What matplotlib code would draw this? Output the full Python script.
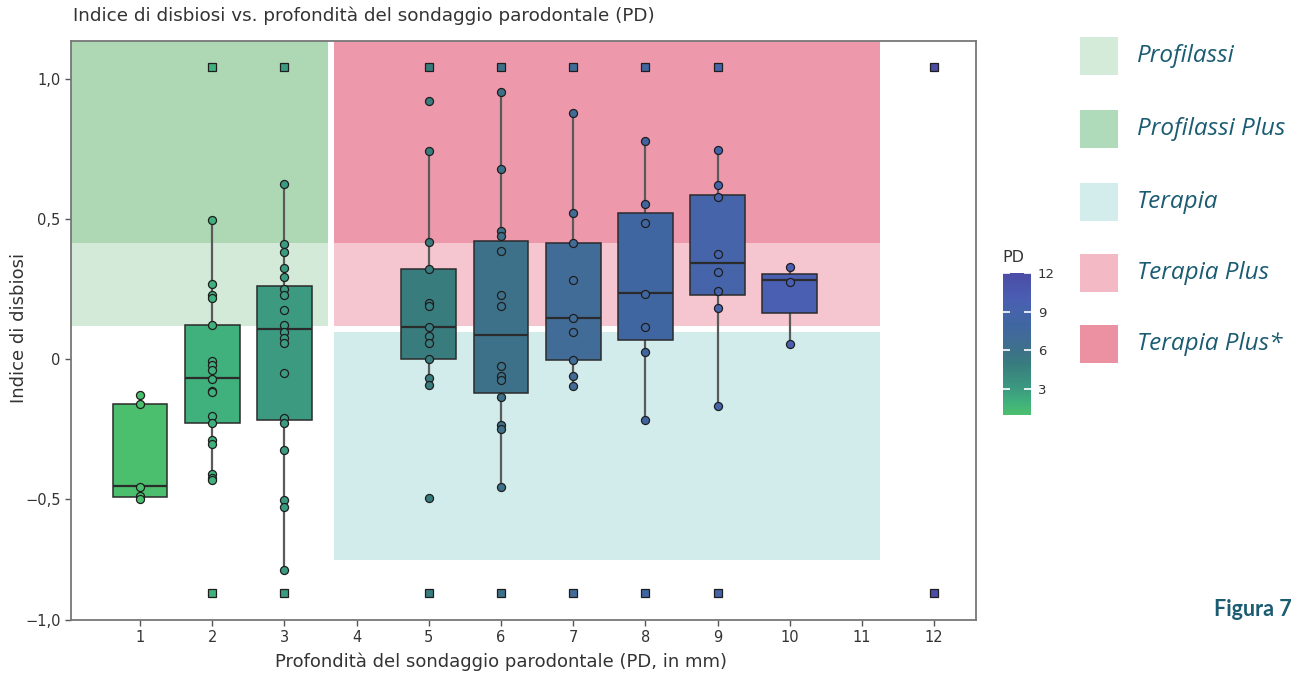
import matplotlib
matplotlib.use("Agg")
import matplotlib.pyplot as plt
from matplotlib.colors import LinearSegmentedColormap, Normalize
from matplotlib.patches import Rectangle
import matplotlib.colorbar as mcolorbar

# ---------------- data ----------------
pd_levels = [1, 2, 3, 5, 6, 7, 8, 9, 10]

pd1_values = [-0.13, -0.16, -0.46, -0.49, -0.50]
pd2_values = [0.495, 0.267, 0.227, 0.216, 0.119, -0.008, -0.022, -0.039, -0.073,
              -0.116, -0.120, -0.204, -0.231, -0.292, -0.305, -0.412, -0.426, -0.435]
pd3_values = [0.623, 0.411, 0.381, 0.325, 0.294, 0.250, 0.228, 0.176, 0.119, 0.095,
              0.075, 0.058, -0.052, -0.211, -0.231, -0.325, -0.505, -0.529, -0.757]
pd5_values = [0.921, 0.742, 0.416, 0.321, 0.200, 0.189, 0.113, 0.082, 0.055,
              -0.002, -0.070, -0.094, -0.497]
pd6_values = [0.954, 0.679, 0.458, 0.438, 0.387, 0.228, 0.189, -0.027, -0.063,
              -0.077, -0.136, -0.236, -0.250, -0.458]
pd7_values = [0.878, 0.521, 0.415, 0.280, 0.145, 0.095, -0.006, -0.063, -0.097]
pd8_values = [0.777, 0.552, 0.485, 0.232, 0.115, 0.024, -0.220]
pd9_values = [0.745, 0.621, 0.579, 0.373, 0.311, 0.242, 0.182, -0.168]
pd10_values = [0.329, 0.276, 0.051]
points_by_pd = [pd1_values, pd2_values, pd3_values, pd5_values, pd6_values,
                pd7_values, pd8_values, pd9_values, pd10_values]

box_q1 = [-0.493, -0.231, -0.218, 0.000, -0.124, -0.006, 0.067, 0.227, 0.162]
box_median = [-0.455, -0.070, 0.106, 0.113, 0.084, 0.146, 0.235, 0.344, 0.280]
box_q3 = [-0.160, 0.119, 0.259, 0.321, 0.420, 0.415, 0.521, 0.585, 0.302]
whisker_low = [-0.500, -0.435, -0.757, -0.094, -0.458, -0.097, -0.220, -0.168, 0.051]
whisker_high = [-0.126, 0.495, 0.623, 0.742, 0.954, 0.878, 0.777, 0.745, 0.329]

# off-scale values shown as squares at the panel edges
capped_pd = [2, 3, 5, 6, 7, 8, 9, 12]
capped_high = 1.043
capped_low = -0.839

x_ticks = [1, 2, 3, 4, 5, 6, 7, 8, 9, 10, 11, 12]
y_ticks = [1.0, 0.5, 0.0, -0.5]
y_tick_labels = ["1,0", "0,5", "0", "\u22120,5"]

legend_labels = ["Profilassi", "Profilassi Plus", "Terapia", "Terapia Plus", "Terapia Plus*"]
legend_colors = ["#d4ebd9", "#b0dbbb", "#d3ecec", "#f3b9c5", "#ec91a2"]

# ---------------- style ----------------
W, H = 1302, 676
plt.rcParams['font.family'] = ['DejaVu Sans']
fig = plt.figure(figsize=(W / 100, H / 100), dpi=100)

YLIM = (-0.934, 1.136)
XLIM = (0.044, 12.58)
ax = fig.add_axes([71 / W, 1 - 620 / H, (976 - 71) / W, (620 - 41) / H])
ax.set_xlim(*XLIM)
ax.set_ylim(*YLIM)

cmap = LinearSegmentedColormap.from_list(
    "pd", [(0.0, "#4cbf6e"), (1 / 11, "#40b07c"), (2 / 11, "#3c9a80"),
           (4 / 11, "#387c7e"), (5 / 11, "#3d7189"), (6 / 11, "#416c98"),
           (7 / 11, "#4066a1"), (8 / 11, "#4564aa"), (9 / 11, "#4a5eb2"),
           (1.0, "#4b4ca6")])
norm = Normalize(1, 12)

# background zones
zones = [
    (XLIM[0], 3.61, 0.414, YLIM[1], "#aed8b4"),
    (XLIM[0], 3.61, 0.118, 0.414, "#d3ead8"),
    (3.69, 11.255, 0.414, YLIM[1], "#ee99ab"),
    (3.69, 11.255, 0.118, 0.414, "#f6c6d0"),
    (3.69, 11.255, -0.721, 0.097, "#d2ebeb"),
]
for x0, x1, y0, y1, c in zones:
    ax.add_patch(Rectangle((x0, y0), x1 - x0, y1 - y0, facecolor=c,
                           edgecolor="none", zorder=0))

# boxes
stats = []
for i, p in enumerate(pd_levels):
    stats.append(dict(med=box_median[i], q1=box_q1[i], q3=box_q3[i],
                      whislo=whisker_low[i], whishi=whisker_high[i], fliers=[]))
bp = ax.bxp(stats, positions=pd_levels, widths=0.76, patch_artist=True,
            showfliers=False, showcaps=False,
            boxprops=dict(edgecolor="#2b2b2b", linewidth=1.1),
            medianprops=dict(color="#2b2b2b", linewidth=1.6),
            whiskerprops=dict(color="#5a5a5a", linewidth=1.6),
            manage_ticks=False, zorder=2)
for patch, p in zip(bp["boxes"], pd_levels):
    patch.set_facecolor(cmap(norm(p)))
for w in bp["whiskers"]:
    w.set_zorder(1.5)

# points
for p, vals in zip(pd_levels, points_by_pd):
    ax.plot([p] * len(vals), vals, linestyle="none", marker="o", markersize=5.8,
            markerfacecolor=cmap(norm(p)), markeredgecolor="#1e1e1e",
            markeredgewidth=0.9, zorder=3)

# capped squares
for p in capped_pd:
    ax.plot([p, p], [capped_high, capped_low], linestyle="none", marker="s",
            markersize=5.5, markerfacecolor=cmap(norm(p)),
            markeredgecolor="#1e1e1e", markeredgewidth=0.9, zorder=3)

# axes styling
for s in ax.spines.values():
    s.set_color("#777777")
    s.set_linewidth(1.3)
ax.set_xticks(x_ticks)
ax.set_xticklabels([str(t) for t in x_ticks])
ax.set_yticks(y_ticks + [YLIM[0]])
ax.set_yticklabels(y_tick_labels + ["\u22121,0"])
ax.tick_params(axis="both", colors="#555555", length=4, width=1.0,
               labelsize=10.5, labelcolor="#333333")
ax.set_xlabel("Profondità del sondaggio parodontale (PD, in mm)", fontsize=13,
              color="#333333", va="center")
ax.xaxis.set_label_coords((501 - 71) / 905, -(662 - 620) / 579)
ax.set_ylabel("Indice di disbiosi", fontsize=13, color="#333333", va="center")
ax.yaxis.set_label_coords(-(71 - 19) / 905, (620 - 328) / 579)
fig.text(73 / W, 1 - 16 / H, "Indice di disbiosi vs. profondità del sondaggio parodontale (PD)",
         fontsize=13.2, color="#333333", ha="left", va="center")

# colorbar
cax = fig.add_axes([1003 / W, 1 - 415 / H, 28 / W, (415 - 273) / H])
cb = mcolorbar.ColorbarBase(cax, cmap=cmap, norm=norm, ticks=[3, 6, 9, 12])
cb.outline.set_visible(False)
cax.tick_params(axis="y", direction="in", color="white", length=5, width=1.2,
                left=True, right=True, labelleft=False, labelright=True,
                labelsize=9.5, labelcolor="#333333", pad=5)
fig.text(1002 / W, 1 - 257 / H, "PD", fontsize=11.5, color="#333333",
         ha="left", va="center")

# zone legend
legend_tops = [37, 110, 183, 254, 325]
for lab, col, top in zip(legend_labels, legend_colors, legend_tops):
    fig.add_artist(Rectangle((1080 / W, 1 - (top + 38) / H), 38 / W, 38 / H,
                             transform=fig.transFigure, facecolor=col,
                             edgecolor="none"))
    fig.text(1137 / W, 1 - (top + 19) / H, lab, fontsize=17.5, style="italic",
             family="Open Sans", color="#1b5c72", ha="left", va="center")

fig.text(1292 / W, 1 - 609 / H, "Figura 7", fontsize=15.5, weight="bold",
         family="Lato", color="#1b5c72", ha="right", va="center")

fig.savefig("out.png", dpi=100)
